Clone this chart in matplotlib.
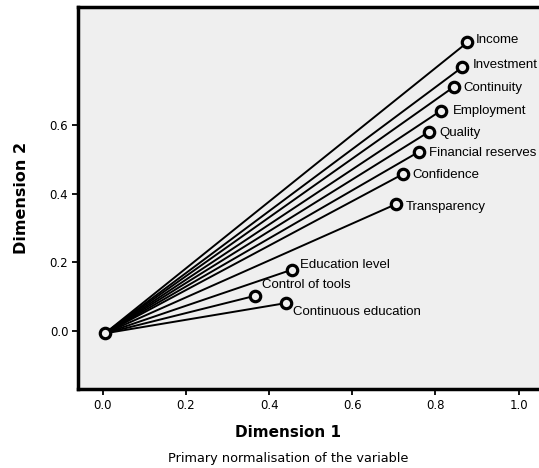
import matplotlib
matplotlib.use('Agg')
import matplotlib.pyplot as plt

# Komponen loadings (dimensi 1, dimensi 2)
variabel = ['Income', 'Investment', 'Continuity', 'Employment', 'Quality',
            'Financial reserves', 'Confidence', 'Transparency',
            'Education level', 'Control of tools', 'Continuous education']
dim1 = [0.877, 0.865, 0.845, 0.813, 0.785, 0.761, 0.721, 0.705, 0.454, 0.365, 0.440]
dim2 = [0.840, 0.768, 0.711, 0.641, 0.580, 0.522, 0.456, 0.369, 0.178, 0.102, 0.081]
titik_asal = (0.005, -0.007)

x_ticks = [0.0, 0.2, 0.4, 0.6, 0.8, 1.0]
y_ticks = [0.0, 0.2, 0.4, 0.6]

# offset label dalam point (x, y)
offset_label = [(6.3, 1.4), (7.2, 1.2), (6.3, -1.2), (8.6, 0), (7.2, -0.7), (7.2, -1.2),
                (7.2, -0.5), (7.2, -1.7), (6, 3.6), (5.3, 7.9), (5.5, -6.3)]

fig = plt.figure(figsize=(5.39, 4.68), dpi=100)
ax = fig.add_axes([0.1447, 0.1688, 0.859, 0.8156])
ax.set_facecolor('#efefef')

for x, y in zip(dim1, dim2):
    ax.plot([titik_asal[0], x], [titik_asal[1], y], color='black', lw=1.4, zorder=2)

ax.plot(dim1, dim2, 'o', ms=7.5, mfc='#efefef', mec='black', mew=2.3, zorder=3, linestyle='none')
ax.plot([titik_asal[0]], [titik_asal[1]], 'o', ms=7.5, mfc='#efefef', mec='black', mew=2.3, zorder=3)

for nama, x, y, off in zip(variabel, dim1, dim2, offset_label):
    ax.annotate(nama, (x, y), xytext=off, textcoords='offset points',
                ha='left', va='center', fontsize=9.5, family='Liberation Sans')

ax.set_xlim(-0.060, 1.054)
ax.set_ylim(-0.169, 0.942)
ax.set_xticks(x_ticks)
ax.set_yticks(y_ticks)
ax.set_xticklabels(['%.1f' % t for t in x_ticks])
ax.set_yticklabels(['%.1f' % t for t in y_ticks])
ax.tick_params(direction='out', length=4, width=1.3, labelsize=8.5, pad=3)

for s in ax.spines.values():
    s.set_linewidth(2.5)

fig.text(0.039, 0.576, 'Dimension 2', rotation=90, ha='center', va='center',
         fontsize=11.5, fontweight='bold')
fig.text(0.535, 0.075, 'Dimension 1', ha='center', va='center',
         fontsize=11, fontweight='bold')
fig.text(0.535, 0.021, 'Primary normalisation of the variable', ha='center', va='center',
         fontsize=9.3)

plt.savefig('out.png', dpi=100)
